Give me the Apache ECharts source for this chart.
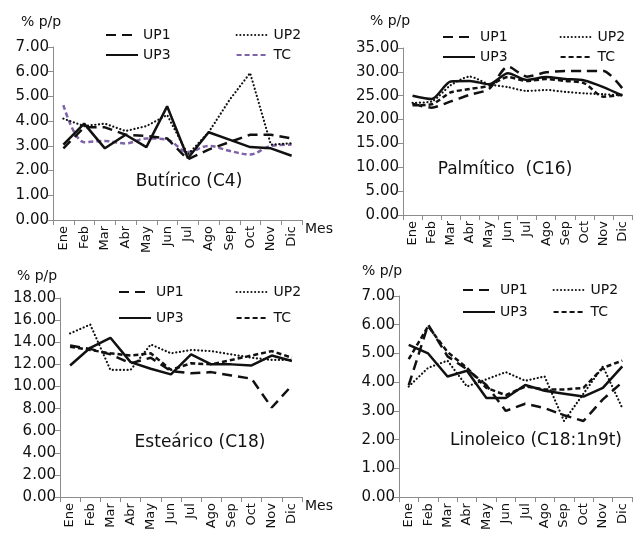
<!DOCTYPE html>
<html>
<head>
<meta charset="utf-8">
<script src="https://cdn.jsdelivr.net/npm/echarts@6/dist/echarts.min.js"></script>
<style>
  html, body { margin: 0; padding: 0; background: #fff; }
  #chart { width: 634px; height: 533px; }
</style>
</head>
<body>
<div id="chart"></div>
<script>
const months = ['Ene', 'Feb', 'Mar', 'Abr', 'May', 'Jun', 'Jul', 'Ago', 'Sep', 'Oct', 'Nov', 'Dic']

// Butírico (C4)
const butUP1 = [2.9, 3.75, 3.75, 3.45, 3.4, 3.3, 2.45, 2.85, 3.15, 3.45, 3.45, 3.3]
const butUP2 = [4.1, 3.8, 3.9, 3.6, 3.8, 4.25, 2.65, 3.55, 4.85, 5.95, 3.05, 3.1]
const butUP3 = [3.05, 3.9, 2.9, 3.45, 2.95, 4.6, 2.5, 3.55, 3.25, 2.95, 2.9, 2.6]
const butTC = [4.65, 3.15, 3.2, 3.1, 3.3, 3.25, 2.75, 3.0, 2.8, 2.65, 3.0, 3.05]

// Palmítico (C16)
const palUP1 = [23.3, 22.5, 23.8, 25.2, 26.4, 31.1, 29.0, 29.9, 30.2, 30.2, 30.2, 26.5]
const palUP2 = [23.5, 23.8, 27.2, 29.0, 27.4, 26.8, 26.0, 26.2, 25.8, 25.5, 25.3, 25.1]
const palUP3 = [25.0, 24.3, 28.0, 28.1, 27.4, 29.7, 28.3, 28.9, 28.5, 28.2, 26.8, 25.0]
const palTC = [23.0, 23.2, 25.7, 26.4, 27.1, 28.9, 28.1, 28.5, 28.1, 27.6, 24.8, 25.2]

// Esteárico (C18)
const estUP1 = [13.7, 13.4, 12.9, 12.1, 12.6, 11.4, 11.2, 11.3, 11.0, 10.7, 8.1, 10.1]
const estUP2 = [14.8, 15.6, 11.5, 11.5, 13.8, 13.0, 13.3, 13.2, 12.9, 12.6, 12.4, 12.4]
const estUP3 = [11.9, 13.5, 14.4, 12.2, 11.6, 11.1, 12.9, 12.0, 12.0, 11.9, 12.8, 12.3]
const estTC = [13.6, 13.3, 13.0, 12.8, 13.0, 11.5, 12.1, 12.0, 12.4, 12.8, 13.2, 12.6]

// Linoleico (C18:1n9t)
const linUP1 = [3.9, 6.0, 4.9, 4.45, 3.9, 3.0, 3.25, 3.1, 2.85, 2.65, 3.4, 4.0]
const linUP2 = [3.85, 4.5, 4.75, 3.85, 4.1, 4.35, 4.05, 4.2, 2.65, 3.6, 4.55, 3.1]
const linUP3 = [5.3, 5.0, 4.2, 4.4, 3.45, 3.45, 3.9, 3.7, 3.6, 3.5, 3.8, 4.55]
const linTC = [4.8, 5.95, 5.05, 4.5, 3.8, 3.55, 3.85, 3.75, 3.75, 3.8, 4.5, 4.75]

// y scales: [max, interval]
const yScales = [[7, 1], [35, 5], [18, 2], [7, 1]]
const titles = ['Butírico (C4)', 'Palmítico  (C16)', 'Esteárico (C18)', 'Linoleico (C18:1n9t)']

const font = 'DejaVu Sans'
const ink = '#111'
const axisGray = '#8c8c8c'

const panels = [
  { grid: { left: 53, top: 47, width: 249, height: 173 }, data: [butUP1, butUP2, butUP3, butTC], tcColor: '#7f63a8', smooth: [0, 0, 0, 0.35], mes: true,
    legend: { left: 100, tops: [23, 43], gap: 65 }, yName: [41, 22], title: [189, 182] },
  { grid: { left: 403, top: 48, width: 229, height: 167 }, data: [palUP1, palUP2, palUP3, palTC], tcColor: ink, smooth: [0.25, 0.25, 0.25, 0.25], mes: false,
    legend: { left: 437, tops: [25, 45], gap: 52 }, yName: [390, 21], title: [505, 170] },
  { grid: { left: 60, top: 298, width: 242, height: 204 }, data: [estUP1, estUP2, estUP3, estTC], tcColor: ink, smooth: [0, 0, 0, 0], mes: true,
    legend: { left: 113, tops: [280, 306], gap: 52 }, yName: [37, 276], title: [200, 443] },
  { grid: { left: 399, top: 296, width: 233, height: 206 }, data: [linUP1, linUP2, linUP3, linTC], tcColor: ink, smooth: [0, 0, 0, 0], mes: false,
    legend: { left: 457, tops: [278, 300], gap: 25 }, yName: [382, 271], title: [536, 441] }
]

const seriesNames = ['UP1', 'UP2', 'UP3', 'TC']
function lineStyleFor(k, tcColor) {
  if (k === 0) return { color: ink, width: 2.5, type: [10, 6] }
  if (k === 1) return { color: ink, width: 2.2, type: [0.1, 3.6], cap: 'round' }
  if (k === 2) return { color: ink, width: 2.5, type: 'solid' }
  return { color: tcColor, width: 2.5, type: [5, 3] }
}

const option = {
  animation: false,
  backgroundColor: '#fff',
  textStyle: { fontFamily: font, color: ink },
  grid: [],
  xAxis: [],
  yAxis: [],
  legend: [],
  series: [],
  graphic: []
}

panels.forEach((p, i) => {
  option.grid.push(p.grid)
  option.xAxis.push({
    type: 'category', gridIndex: i, data: months, boundaryGap: true,
    name: p.mes ? 'Mes' : '', nameLocation: 'end', nameGap: 3,
    nameTextStyle: { fontFamily: font, fontSize: 14, color: ink, verticalAlign: 'top', padding: [2, 0, 0, 0] },
    axisLine: { lineStyle: { color: axisGray, width: 1 } },
    axisTick: { show: true, length: 5, lineStyle: { color: axisGray } },
    axisLabel: { rotate: 90, interval: 0, margin: 6, fontFamily: font, fontSize: 13, color: ink },
    splitLine: { show: false }
  })
  option.yAxis.push({
    type: 'value', gridIndex: i, min: 0, max: yScales[i][0], interval: yScales[i][1],
    axisLine: { show: true, lineStyle: { color: axisGray, width: 1 } },
    axisTick: { show: true, length: 5, lineStyle: { color: axisGray } },
    axisLabel: { margin: 4, fontFamily: font, fontSize: 15, color: ink, formatter: (v) => v.toFixed(2) },
    splitLine: { show: false }
  })
  p.data.forEach((vals, k) => {
    const ls = lineStyleFor(k, p.tcColor)
    option.series.push({
      name: seriesNames[k] + '|' + i,
      type: 'line', xAxisIndex: i, yAxisIndex: i,
      data: vals, symbol: 'none', smooth: p.smooth[k],
      itemStyle: { color: ls.color },
      lineStyle: ls, z: 4 - k
    })
  })
  const rows = [[0, 1], [2, 3]]
  rows.forEach((r, ri) => {
    option.legend.push({
      left: p.legend.left, top: p.legend.tops[ri], orient: 'horizontal',
      itemWidth: 32, itemHeight: 14, itemGap: p.legend.gap,
      data: r.map((k) => seriesNames[k] + '|' + i),
      formatter: (name) => name.split('|')[0],
      itemStyle: { opacity: 0 },
      textStyle: { fontFamily: font, fontSize: 14, color: ink },
      selectedMode: false
    })
  })
  option.graphic.push({
    type: 'text', x: p.yName[0], y: p.yName[1],
    style: { text: '% p/p', font: '14px ' + font, fill: ink, textAlign: 'center', textVerticalAlign: 'middle' }
  })
  option.graphic.push({
    type: 'text', x: p.title[0], y: p.title[1],
    style: { text: titles[i], font: '17px ' + font, fill: ink, textAlign: 'center', textVerticalAlign: 'middle' }
  })
})

const chart = echarts.init(document.getElementById('chart'), null, { renderer: 'canvas' })
chart.setOption(option)
window.addEventListener('resize', () => chart.resize())
</script>
</body>
</html>
